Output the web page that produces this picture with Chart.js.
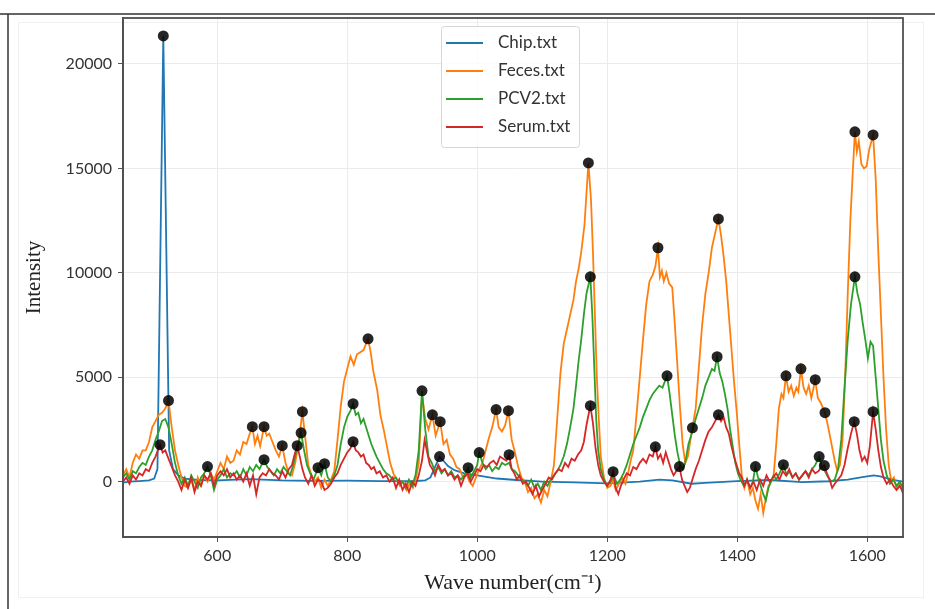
<!DOCTYPE html>
<html>
<head>
<meta charset="utf-8">
<script src="https://cdn.jsdelivr.net/npm/chart.js@4.4.0/dist/chart.umd.min.js"></script>
<style>
  body { margin: 0; background: #fff; }
  #graph-container { position: relative; width: 935px; height: 609px; }
</style>
</head>
<body>
<div id="graph-container"><canvas id="myChart" width="935" height="609"></canvas></div>
<script>
// series names / colours (matplotlib default cycle)
const seriesNames = ['Chip.txt', 'Feces.txt', 'PCV2.txt', 'Serum.txt'];
const seriesColors = ['#1f77b4', '#ff7f0e', '#2ca02c', '#d62728'];

const xTicks = [600, 800, 1000, 1200, 1400, 1600];
const yTicks = [0, 5000, 10000, 15000, 20000];

// [wave number, intensity]
const chip = [[455,-50],[465,0],[480,30],[495,60],[503,150],[508,600],[517,21340],[526,1500],[532,600],[540,300],[550,150],[570,80],[600,60],[650,120],[700,60],[750,40],[800,50],[850,30],[900,20],[920,60],[928,200],[935,700],[942,1200],[948,1000],[955,750],[965,550],[980,400],[1000,300],[1030,150],[1060,80],[1100,0],[1150,-30],[1200,-80],[1250,0],[1280,100],[1300,60],[1330,-100],[1350,-60],[1400,30],[1450,80],[1500,-20],[1540,20],[1570,100],[1590,200],[1600,250],[1610,300],[1620,250],[1640,80],[1655,0]];

const feces = [[455,300],[460,600],[465,200],[470,900],[475,1300],[480,1100],[485,1500],[490,1500],[495,1900],[500,2600],[505,2900],[510,3200],[515,3300],[520,3500],[525,3880],[530,2600],[535,1500],[540,800],[545,200],[550,-200],[555,-300],[560,100],[565,-400],[570,200],[575,-200],[580,300],[585,0],[590,400],[595,100],[600,500],[605,900],[610,600],[615,1200],[620,900],[625,1000],[630,1500],[635,1300],[640,1900],[645,1800],[650,2300],[654,2630],[658,1800],[662,2200],[666,1700],[672,2630],[676,2200],[680,2300],[685,1900],[690,1500],[695,1200],[700,1720],[705,900],[710,400],[715,300],[720,900],[725,1800],[731,3350],[735,2200],[740,800],[745,300],[750,0],[755,200],[760,-300],[765,100],[770,-200],[775,100],[780,500],[785,2000],[790,3600],[795,4800],[800,5400],[805,6000],[810,5600],[815,6100],[820,6200],[825,6300],[832,6840],[836,6200],[840,5300],[846,4400],[851,3200],[856,2500],[861,1700],[866,900],[871,400],[876,100],[881,-200],[886,0],[891,-400],[896,-100],[901,-300],[906,200],[910,900],[915,4200],[920,3000],[925,2500],[931,3200],[936,2200],[943,2870],[948,1800],[953,2000],[958,1300],[963,1100],[968,700],[973,600],[978,200],[983,400],[988,0],[993,-200],[998,200],[1003,600],[1008,900],[1013,1500],[1018,2100],[1023,2600],[1029,3450],[1033,2600],[1038,2400],[1043,2700],[1048,3400],[1053,2000],[1058,1400],[1063,700],[1068,200],[1073,0],[1078,-500],[1083,-300],[1088,-800],[1093,-600],[1098,-1000],[1103,-400],[1108,-700],[1113,0],[1118,800],[1123,3000],[1128,5200],[1133,6600],[1138,7300],[1143,8000],[1148,8700],[1152,9600],[1156,10200],[1160,11000],[1165,12300],[1168,13800],[1171,15260],[1175,13500],[1178,11000],[1181,8000],[1184,5000],[1187,3000],[1190,1200],[1195,200],[1200,-300],[1205,-200],[1209,100],[1213,-400],[1218,-100],[1223,200],[1228,-100],[1232,400],[1236,1000],[1240,1500],[1245,3200],[1250,5000],[1255,6800],[1260,8500],[1265,9600],[1270,9900],[1274,10300],[1278,11200],[1281,9800],[1284,10100],[1287,9600],[1291,10000],[1295,9500],[1300,9300],[1304,7500],[1308,5500],[1312,3500],[1316,1800],[1320,900],[1324,1200],[1328,2000],[1331,2580],[1336,3500],[1341,5500],[1346,7500],[1351,9000],[1356,10000],[1361,11200],[1366,11900],[1371,12580],[1375,11800],[1379,10800],[1383,9600],[1387,8000],[1391,6400],[1395,4800],[1399,3400],[1403,1800],[1407,300],[1411,-300],[1415,100],[1420,-600],[1424,-300],[1428,-900],[1432,-1300],[1436,-600],[1440,-1500],[1444,-800],[1448,-200],[1452,0],[1456,300],[1460,1800],[1464,3500],[1468,4200],[1471,4000],[1475,5070],[1479,4300],[1483,4600],[1487,4100],[1491,4500],[1494,4300],[1498,5400],[1502,4500],[1506,4200],[1510,4600],[1514,4000],[1520,4880],[1524,4000],[1528,3800],[1535,3300],[1540,2600],[1545,1800],[1550,1000],[1554,500],[1558,800],[1562,2000],[1566,5000],[1570,9000],[1574,12500],[1578,15000],[1581,16750],[1584,15800],[1587,16300],[1591,15200],[1595,15000],[1599,15100],[1603,15900],[1609,16600],[1613,14500],[1617,11000],[1621,8000],[1625,5000],[1629,2500],[1633,800],[1637,0],[1641,200],[1645,-300],[1650,-100],[1655,-600]];

const pcv2 = [[455,200],[460,400],[465,100],[470,500],[475,400],[480,700],[485,900],[490,800],[495,1200],[500,1500],[505,2000],[510,2400],[515,2900],[520,3000],[525,2600],[530,1800],[535,900],[540,300],[545,-100],[550,200],[555,-200],[560,300],[565,0],[570,-300],[575,200],[580,400],[585,720],[590,300],[595,-400],[600,100],[605,300],[610,600],[615,200],[620,400],[625,300],[630,500],[635,200],[640,600],[645,300],[650,700],[655,500],[660,800],[665,600],[672,1050],[677,700],[682,500],[687,300],[692,600],[697,400],[702,700],[707,500],[712,300],[717,800],[722,1500],[729,2340],[733,1600],[738,800],[743,400],[748,100],[752,400],[755,670],[760,300],[765,860],[770,200],[775,0],[780,300],[785,800],[790,1800],[795,2600],[800,3100],[805,3400],[809,3730],[813,3200],[817,3300],[821,2800],[825,3000],[829,2600],[833,2200],[837,1800],[841,1500],[845,1200],[850,900],[855,600],[860,400],[865,300],[870,100],[875,200],[880,-100],[885,0],[890,-300],[895,100],[900,-200],[905,300],[910,1500],[915,4350],[920,2500],[925,1200],[930,900],[935,500],[940,700],[945,400],[950,600],[955,300],[960,500],[965,200],[970,300],[975,100],[980,300],[986,670],[990,200],[995,500],[1000,800],[1003,1390],[1008,900],[1013,600],[1018,800],[1023,500],[1028,700],[1033,600],[1038,900],[1043,800],[1049,900],[1053,600],[1058,500],[1063,300],[1068,100],[1073,0],[1078,-200],[1083,100],[1088,-300],[1093,-100],[1098,-400],[1103,0],[1108,-200],[1113,100],[1118,300],[1123,500],[1128,800],[1133,1200],[1138,1800],[1143,2600],[1148,3500],[1152,4600],[1156,5800],[1160,6800],[1164,8000],[1168,9000],[1174,9810],[1177,8000],[1180,5500],[1183,3000],[1186,1500],[1190,600],[1195,100],[1200,-200],[1205,0],[1210,300],[1215,-100],[1220,100],[1225,400],[1230,800],[1235,1300],[1240,1800],[1245,2200],[1250,2600],[1255,3100],[1260,3500],[1265,3900],[1270,4200],[1275,4400],[1280,4600],[1285,4500],[1292,5070],[1296,4200],[1300,3200],[1304,2200],[1308,1400],[1312,800],[1316,600],[1320,900],[1325,1800],[1331,2400],[1336,3000],[1341,3500],[1346,4000],[1351,4600],[1356,5000],[1361,5400],[1365,5300],[1369,5980],[1373,5200],[1377,4800],[1381,4200],[1385,3500],[1389,2500],[1393,1700],[1397,900],[1401,400],[1405,100],[1410,-200],[1415,100],[1420,-300],[1424,0],[1428,720],[1432,200],[1436,-200],[1440,-600],[1444,-900],[1448,-300],[1452,0],[1456,300],[1460,100],[1465,400],[1471,810],[1476,300],[1480,500],[1485,200],[1490,400],[1495,100],[1500,300],[1505,500],[1510,300],[1515,600],[1520,800],[1526,1200],[1530,700],[1535,500],[1540,200],[1545,0],[1550,100],[1555,600],[1560,2000],[1565,4500],[1570,6800],[1575,8500],[1581,9810],[1585,9000],[1589,8500],[1593,7600],[1597,6800],[1601,5900],[1605,6700],[1609,6500],[1613,5000],[1617,3500],[1621,2000],[1625,1000],[1630,300],[1635,-100],[1640,100],[1645,-200],[1650,0],[1655,-300]];

const serum = [[455,0],[460,200],[465,-100],[470,300],[475,100],[480,400],[485,300],[490,600],[495,500],[500,900],[505,1200],[512,1770],[516,1400],[520,1500],[525,1100],[530,700],[535,300],[540,0],[545,-400],[550,100],[555,-300],[560,200],[565,-500],[570,0],[575,-200],[580,300],[585,100],[590,400],[595,-200],[600,300],[605,500],[610,300],[615,600],[620,200],[625,400],[630,100],[635,300],[640,0],[645,400],[650,-200],[655,300],[660,-600],[665,200],[670,400],[675,300],[680,600],[685,400],[690,300],[695,100],[700,500],[705,200],[710,600],[715,800],[719,1300],[723,1720],[727,1200],[731,600],[735,200],[740,-100],[745,300],[750,-200],[755,100],[760,0],[765,-400],[770,-300],[775,-100],[780,200],[785,400],[790,800],[795,1100],[800,1400],[805,1600],[809,1910],[813,1500],[817,1400],[821,1200],[825,1300],[829,900],[833,800],[837,600],[841,700],[845,400],[850,500],[855,200],[860,300],[865,0],[870,200],[875,-300],[880,100],[885,-400],[890,-100],[895,-500],[900,0],[905,-200],[910,300],[915,1000],[919,2000],[923,1400],[927,800],[931,600],[935,300],[940,800],[945,500],[950,600],[955,300],[960,400],[965,100],[970,300],[975,-200],[980,200],[985,400],[990,0],[995,300],[1000,600],[1005,500],[1010,800],[1015,700],[1020,900],[1025,1000],[1030,800],[1035,1200],[1040,1100],[1045,1000],[1049,1290],[1053,600],[1057,400],[1061,100],[1065,300],[1070,-100],[1075,0],[1080,-300],[1085,-600],[1090,-200],[1095,-700],[1100,-400],[1105,-100],[1110,200],[1115,100],[1120,400],[1125,600],[1130,500],[1135,900],[1140,700],[1145,1100],[1150,1000],[1155,1300],[1160,1500],[1164,1900],[1168,2700],[1174,3640],[1178,2800],[1182,1600],[1186,800],[1190,300],[1195,0],[1200,-200],[1205,100],[1209,480],[1213,-300],[1217,-600],[1221,-200],[1225,100],[1230,400],[1235,300],[1240,700],[1245,600],[1250,900],[1255,1100],[1260,900],[1265,1300],[1270,1200],[1274,1670],[1278,1100],[1282,1300],[1286,900],[1290,1400],[1294,1000],[1298,600],[1302,300],[1306,500],[1311,720],[1315,100],[1319,-200],[1323,-500],[1327,-300],[1331,100],[1336,600],[1341,1000],[1346,1500],[1351,2000],[1356,2400],[1361,2600],[1366,2900],[1371,3200],[1375,2900],[1379,3100],[1383,2600],[1387,2300],[1391,1700],[1395,1200],[1399,800],[1403,400],[1407,200],[1411,-200],[1415,100],[1420,-300],[1425,0],[1430,-400],[1435,100],[1440,-200],[1445,300],[1450,0],[1455,200],[1460,400],[1465,100],[1470,500],[1475,300],[1480,600],[1485,200],[1490,400],[1495,100],[1500,300],[1505,500],[1510,200],[1515,600],[1520,400],[1525,500],[1529,700],[1534,770],[1538,400],[1542,100],[1546,-300],[1550,-100],[1555,100],[1560,300],[1565,800],[1570,1600],[1575,2300],[1580,2870],[1584,2300],[1588,1500],[1592,1000],[1596,1200],[1600,900],[1604,1700],[1609,3350],[1613,2500],[1617,1500],[1621,700],[1625,200],[1630,-100],[1635,100],[1640,-200],[1645,-400],[1650,-200],[1655,-500]];

// detected peaks (black dots)
const chipPeaks = [[517,21340],[942,1200]];
const fecesPeaks = [[525,3880],[654,2630],[672,2630],[700,1720],[731,3350],[832,6840],[931,3200],[943,2870],[1029,3450],[1048,3400],[1171,15260],[1278,11200],[1331,2580],[1371,12580],[1475,5070],[1498,5400],[1520,4880],[1535,3300],[1581,16750],[1609,16600]];
const pcv2Peaks = [[585,720],[672,1050],[729,2340],[755,670],[765,860],[809,3730],[915,4350],[986,670],[1003,1390],[1174,9810],[1292,5070],[1369,5980],[1428,720],[1471,810],[1526,1200],[1581,9810]];
const serumPeaks = [[512,1770],[723,1720],[809,1910],[1049,1290],[1174,3640],[1209,480],[1274,1670],[1311,720],[1371,3200],[1534,770],[1580,2870],[1609,3350]];

const toXY = (arr) => arr.map(p => ({ x: p[0], y: p[1] }));

const frameColor = '#505050';

const figureFrame = {
  id: 'figureFrame',
  beforeDraw(chart) {
    const ctx = chart.ctx;
    ctx.save();
    ctx.fillStyle = '#fff';
    ctx.fillRect(0, 0, chart.width, chart.height);
    ctx.strokeStyle = '#f0f0f0';
    ctx.lineWidth = 1;
    ctx.strokeRect(18.5, 22.5, 905, 575);
    ctx.strokeStyle = '#333';
    ctx.lineWidth = 1.5;
    ctx.beginPath();
    ctx.moveTo(0, 14);
    ctx.lineTo(chart.width, 14);
    ctx.moveTo(8, 14);
    ctx.lineTo(8, chart.height);
    ctx.stroke();
    ctx.restore();
  },
  afterDraw(chart) {
    const a = chart.chartArea;
    const ctx = chart.ctx;
    ctx.save();
    ctx.strokeStyle = frameColor;
    ctx.lineWidth = 1.8;
    ctx.strokeRect(a.left, a.top, a.right - a.left, a.bottom - a.top);
    ctx.restore();
  }
};

// legend box drawn inside the plot, like matplotlib's
const boxLegend = {
  id: 'boxLegend',
  afterDraw(chart) {
    const ctx = chart.ctx;
    const x0 = 441, y0 = 26, w = 138, h = 121;
    ctx.save();
    ctx.fillStyle = 'rgba(255,255,255,0.85)';
    ctx.strokeStyle = '#d6d6d6';
    ctx.lineWidth = 1;
    ctx.beginPath();
    ctx.roundRect(x0 + 0.5, y0 + 0.5, w, h, 3);
    ctx.fill();
    ctx.stroke();
    ctx.font = '17px Lato';
    ctx.textBaseline = 'middle';
    for (let i = 0; i < seriesNames.length; i++) {
      const y = y0 + 17 + i * 28;
      ctx.strokeStyle = seriesColors[i];
      ctx.lineWidth = 2;
      ctx.beginPath();
      ctx.moveTo(x0 + 5, y);
      ctx.lineTo(x0 + 42, y);
      ctx.stroke();
      ctx.fillStyle = '#333';
      ctx.fillText(seriesNames[i], x0 + 57, y);
    }
    ctx.restore();
  }
};

function lineSet(i, pts) {
  return {
    label: seriesNames[i],
    data: toXY(pts),
    borderColor: seriesColors[i],
    borderWidth: 1.8,
    pointRadius: 0,
    tension: 0,
    order: 4 - i + 1
  };
}

const ctx_live = document.getElementById('myChart');
const myChart = new Chart(ctx_live, {
  type: 'line',
  data: {
    datasets: [
      lineSet(0, chip),
      lineSet(1, feces),
      lineSet(2, pcv2),
      lineSet(3, serum),
      {
        label: 'peaks',
        data: toXY(chipPeaks.concat(fecesPeaks, pcv2Peaks, serumPeaks)),
        showLine: false,
        pointRadius: 5.5,
        pointBackgroundColor: 'rgba(0,0,0,0.85)',
        pointBorderColor: 'rgba(0,0,0,0.85)',
        pointBorderWidth: 0,
        order: 0
      }
    ]
  },
  options: {
    responsive: false,
    animation: false,
    layout: { padding: { left: 0, right: 32, top: 18, bottom: 0 } },
    plugins: {
      legend: { display: false },
      tooltip: { enabled: false }
    },
    scales: {
      x: {
        type: 'linear',
        min: 455,
        max: 1655,
        afterBuildTicks: (scale) => { scale.ticks = xTicks.map(v => ({ value: v })); },
        afterFit: (scale) => { scale.height = 72; },
        grid: { color: '#ebebeb', tickColor: '#555', tickLength: 5 },
        border: { color: frameColor, width: 1.8 },
        ticks: {
          font: { family: 'Lato', size: 16 },
          color: '#333',
          padding: 4,
          maxRotation: 0,
          callback: (v) => String(v)
        },
        title: {
          display: true,
          text: 'Wave number(cm\u207B\u00B9)',
          font: { family: 'Liberation Serif', size: 22 },
          color: '#222',
          padding: { top: 0, bottom: 13 }
        }
      },
      y: {
        min: -2650,
        max: 22200,
        afterBuildTicks: (scale) => { scale.ticks = yTicks.map(v => ({ value: v })); },
        afterFit: (scale) => { scale.width = 123; },
        grid: { color: '#ebebeb', tickColor: '#555', tickLength: 5 },
        border: { color: frameColor, width: 1.8 },
        ticks: {
          font: { family: 'Lato', size: 16 },
          color: '#333',
          padding: 6,
          callback: (v) => String(v)
        },
        title: {
          display: true,
          text: 'Intensity',
          font: { family: 'Liberation Serif', size: 21 },
          color: '#222',
          padding: { top: 22, bottom: 0 }
        }
      }
    }
  },
  plugins: [figureFrame, boxLegend]
});
</script>
</body>
</html>
